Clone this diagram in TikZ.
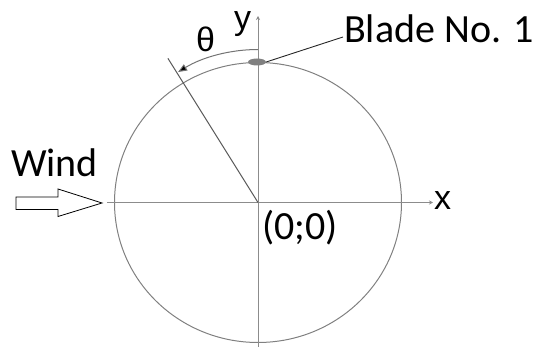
\documentclass[tikz,border=0pt]{standalone}
\usepackage{fontspec}
\setmainfont{Carlito}
\newfontfamily\axisfont{Liberation Sans}
\usetikzlibrary{arrows.meta,calc,shapes.geometric}
\begin{document}
\begin{tikzpicture}[x=1pt,y=1pt,
  bigtext/.style={inner sep=0pt,anchor=base west,font=\fontsize{40}{48}\selectfont},
  axtext/.style={inner sep=0pt,anchor=base west,font=\axisfont\fontsize{34}{40}\selectfont},
  axisline/.style={draw=black!45,line width=1pt},
  rimline/.style={draw=black!50,line width=1pt}]
\useasboundingbox (0,0) rectangle (541,-347);
\coordinate (O) at (258,-202.5);
\coordinate (xend) at (433,-202.5);
\coordinate (xstart) at (107,-202.5);
\coordinate (ytop) at (258,-16);
\coordinate (ybot) at (258,-347);
% rotor circle
\draw[rimline] (O) ellipse [x radius=143.5pt, y radius=140pt];
% axes
\draw[axisline,-{Stealth[length=4pt,width=4pt]}] (xstart) -- (xend);
\draw[axisline,-{Stealth[length=4pt,width=4pt]}] (ybot) -- (ytop);
% radial line at theta
\coordinate (rad) at ($(O)+(122:170)$);
\draw[draw=black!65,line width=1pt] (O) -- (rad);
% theta arc
\coordinate (arcstart) at ($(O)+(90:153)$);
\draw[draw=black!55,line width=1pt,-{Triangle[length=9pt,width=7pt,fill=black]}] (arcstart) arc[start angle=90,end angle=121.5,radius=153pt];
% blade
\node[draw=none,fill=black!50,ellipse,minimum width=18pt,minimum height=7pt,inner sep=0pt] (blade) at (257,-62) {};
\coordinate (lead) at (343,-37);
\draw[black!85,line width=0.9pt] (blade.east) -- (lead);
% labels
\node[bigtext] (bladetext) at (344,-43) {Blade No. 1};
\node[bigtext] (wind) at (11,-177) {Wind};
\node[bigtext] (origin) at (262,-240) {(0;0)};
\node[axtext] (theta) at (196,-52) {θ};
\node[axtext] (ylab) at (234,-30) {y};
\node[axtext] (xlab) at (434,-210) {x};
% wind arrow
\draw[black,line width=0.8pt,fill=white] (16,-197) -- (58,-197) -- (58,-189) -- (102,-203) -- (58,-216.5) -- (58,-209.5) -- (16,-209.5) -- cycle;
\end{tikzpicture}
\end{document}
